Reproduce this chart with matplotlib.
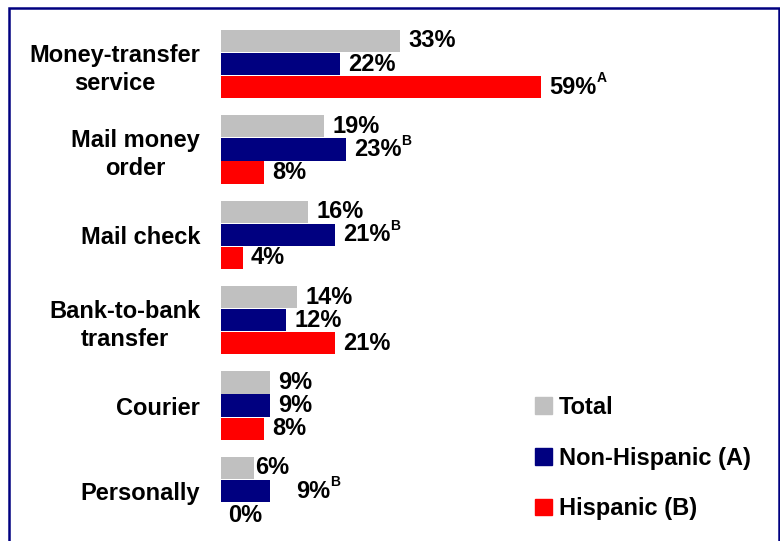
import matplotlib.pyplot as plt
from matplotlib.patches import Patch, Rectangle

categories = ['Money-transfer\nservice', 'Mail money\norder', 'Mail check',
              'Bank-to-bank\ntransfer', 'Courier', 'Personally']
total = [33, 19, 16, 14, 9, 6]
non_hispanic = [22, 23, 21, 12, 9, 9]
hispanic = [59, 8, 4, 21, 8, 0]
# significance letters shown next to the value labels
non_hispanic_sig = ['', 'B', 'B', '', '', 'B']
hispanic_sig = ['A', '', '', '', '', '']

series = [
    ('Total', total, ['']*6, '#C0C0C0'),
    ('Non-Hispanic (A)', non_hispanic, non_hispanic_sig, '#000080'),
    ('Hispanic (B)', hispanic, hispanic_sig, '#FF0000'),
]

plt.rcParams['font.family'] = 'Liberation Sans'
plt.rcParams['font.weight'] = 'bold'
FS = 17

fig = plt.figure(figsize=(7.8, 5.41), dpi=100)
ax = fig.add_axes([221/780, 7.3/541, 542/780, 512.4/541])

pitch = 0.27
height = 0.26
# label nudges (points) for the crowded last group
nudge = {(0, 5): (1, 0), (1, 5): (19, 0), (2, 5): (5, -1)}

for j, (name, vals, sig, color) in enumerate(series):
    ys = [i + (j - 1) * pitch for i in range(len(vals))]
    ax.barh(ys, vals, height=height, color=color, label=name)
    for i, (y, v, s) in enumerate(zip(ys, vals, sig)):
        dx, dy = nudge.get((j, i), (6, 0))
        t = ax.annotate(f'{v}%', xy=(v, y), xytext=(dx, dy), textcoords='offset points',
                        ha='left', va='center', fontsize=FS, fontweight='bold')
        if s:
            ax.annotate(s, xy=(1, 1), xycoords=t, xytext=(0, 3), textcoords='offset points',
                        ha='left', va='top', fontsize=10, fontweight='bold')

ax.set_xlim(0, 100)
ax.set_ylim(5.5, -0.5)
ax.set_yticks(range(len(categories)))
ax.set_yticklabels(categories, fontsize=FS, fontweight='bold', ma='center', linespacing=1.3)
ax.tick_params(axis='y', length=0, pad=15)
ax.set_xticks([])
for sp in ax.spines.values():
    sp.set_visible(False)

handles = [Patch(color=c, label=n) for n, _, _, c in series]
fig.legend(handles=handles, loc='center left', bbox_to_anchor=(535/780, 1 - 458/541),
           frameon=False, fontsize=FS, handlelength=0.7, handleheight=0.7,
           handletextpad=0.3, labelspacing=1.17, borderpad=0, borderaxespad=0)

fig.add_artist(Rectangle((9/780, -0.1), 770/780, 1.1 - 8/541, transform=fig.transFigure,
                         fill=False, edgecolor='#000080', linewidth=1.8, clip_on=False))

fig.savefig('out.png', dpi=100)
